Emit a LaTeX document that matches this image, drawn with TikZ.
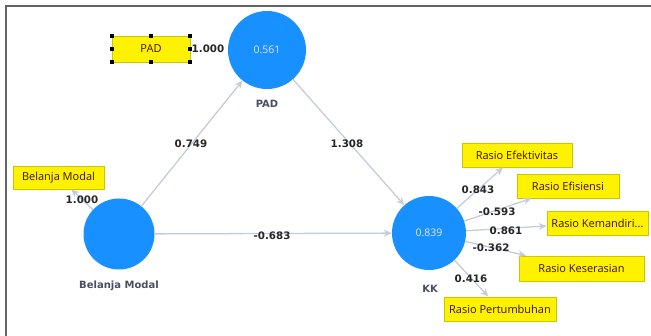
\documentclass[tikz,border=0pt]{standalone}
\usepackage{fontspec}
\setmainfont{DejaVu Sans}
\newfontfamily\boxfont{Open Sans}
\usetikzlibrary{arrows.meta}
\definecolor{lvblue}{RGB}{24,144,255}
\definecolor{arrgray}{RGB}{196,204,218}
\definecolor{boxtxt}{RGB}{60,16,0}
\definecolor{boxedge}{RGB}{200,200,0}
\definecolor{lvlabel}{RGB}{70,78,96}
\definecolor{frame}{RGB}{100,100,100}
\tikzset{
  lv/.style={circle, fill=lvblue, draw=none, inner sep=0pt, font=\boxfont\fontsize{10.5}{12}\selectfont, text=white!90!blue},
  ind/.style={rectangle, fill=yellow, draw=boxedge, line width=0.8pt, inner sep=0pt, font=\boxfont\fontsize{11}{13}\selectfont, text=boxtxt},
  lvname/.style={font=\bfseries\fontsize{10}{12}\selectfont, text=lvlabel},
  coef/.style={font=\bfseries\fontsize{10.3}{12}\selectfont, text=black!85},
  arr/.style={draw=arrgray, line width=1.3pt, -{Stealth[length=8pt,width=7pt]}},
  handle/.style={fill=black, draw=none, minimum size=4pt, inner sep=0pt}
}
\begin{document}
\begin{tikzpicture}[x=1pt,y=-1pt]
\useasboundingbox (0,0) rectangle (651,336);
% frame
\draw[frame, line width=2pt] (6,336) -- (6,6) -- (651,6);
% latent variables
\node[lv, minimum size=78pt] (pad) at (267,50) {0.561};
\node[lv, minimum size=71pt] (bm) at (119,234) {};
\node[lv, minimum size=74pt] (kk) at (429,233) {0.839};
\node[lvname] (padn) at (267,104) {PAD};
\node[lvname] (bmn) at (119,286) {Belanja Modal};
\node[lvname] (kkn) at (430,289) {KK};
% indicators
\node[ind, minimum width=78pt, minimum height=26pt] (padi) at (151,49) {PAD};
\node[ind, minimum width=91pt, minimum height=23pt] (bmi) at (58.5,177.5) {Belanja Modal};
\node[ind, minimum width=110pt, minimum height=24pt] (r1) at (517,155) {Rasio Efektivitas};
\node[ind, minimum width=102pt, minimum height=24pt] (r2) at (568,186) {Rasio Efisiensi};
\node[ind, minimum width=101pt, minimum height=24pt] (r3) at (597.5,223) {Rasio Kemandiri...};
\node[ind, minimum width=125pt, minimum height=25pt] (r4) at (581.5,268.5) {Rasio Keserasian};
\node[ind, minimum width=112pt, minimum height=24pt] (r5) at (500,309) {Rasio Pertumbuhan};
% selection handles
\foreach \a in {north west,north,north east,east,south east,south,south west,west}
  \node[handle] at (padi.\a) {};
% structural paths
\draw[arr] (bm) -- (pad);
\draw[arr] (pad) -- (kk);
\draw[arr] (bm) -- (kk);
% measurement paths
\draw[arr] (bm) -- (bmi);
\draw[arr] (kk) -- (r1);
\draw[arr] (kk) -- (r2);
\draw[arr] (kk) -- (r3);
\draw[arr] (kk) -- (r4);
\draw[arr] (kk) -- (r5);
% coefficients
\node[coef] (c1) at (191,144) {0.749};
\node[coef] (c2) at (347,144) {1.308};
\node[coef] (c3) at (272,236) {-0.683};
\node[coef] (c4) at (208,49) {1.000};
\node[coef] (c5) at (82,200) {1.000};
\node[coef] (c6) at (478,190) {0.843};
\node[coef] (c7) at (497,212) {-0.593};
\node[coef] (c8) at (506,231) {0.861};
\node[coef] (c9) at (491,248) {-0.362};
\node[coef] (c10) at (471,279) {0.416};
\end{tikzpicture}
\end{document}
